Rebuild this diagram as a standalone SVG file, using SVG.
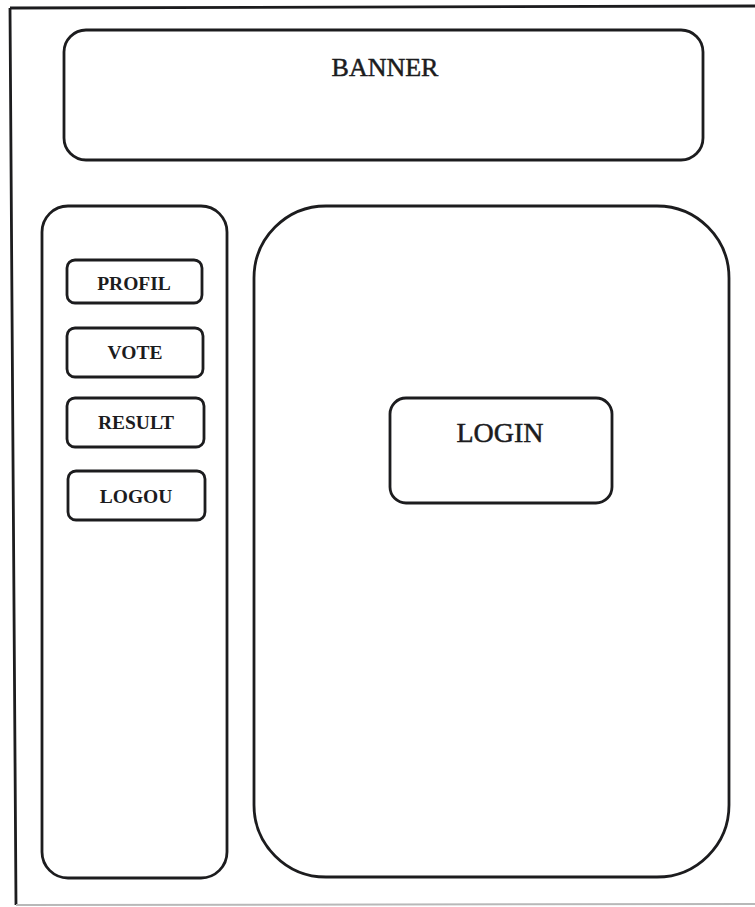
<svg xmlns="http://www.w3.org/2000/svg" width="755" height="907" viewBox="0 0 755 907">
  <style>
    .box { fill: #ffffff; stroke: #1c1c1e; stroke-width: 2.8; }
    .frame { fill: none; stroke: #1c1c1e; stroke-width: 2.8; }
    .title { font-family: "Liberation Serif", "Times New Roman", serif; fill: #1c1c1e; stroke: #1c1c1e; stroke-width: 0.5; text-anchor: middle; }
    .menu { font-family: "Liberation Serif", "Times New Roman", serif; font-weight: bold; font-size: 19.5px; fill: #1c1c1e; text-anchor: middle; }
  </style>
  <rect width="755" height="907" fill="#ffffff"/>

  <!-- page frame -->
  <g id="frame">
    <path class="frame" d="M10,8 L755,6 M10,8 L16,905"/>
    <path d="M16,905 L755,904" fill="none" stroke="#b8b8b8" stroke-width="2"/>
  </g>

  <!-- header -->
  <g id="banner">
    <rect class="box" x="64" y="30" width="639" height="130" rx="22" ry="22"/>
    <text class="title" x="385" y="76" font-size="26">BANNER</text>
  </g>

  <!-- side menu -->
  <g id="sidebar">
    <rect class="box" x="42" y="206" width="185" height="672" rx="26" ry="26"/>
  </g>
  <g id="profil">
    <rect class="box" x="67" y="260" width="135" height="43" rx="8" ry="8"/>
    <text class="menu" x="134" y="290">PROFIL</text>
  </g>
  <g id="vote">
    <rect class="box" x="67" y="328" width="136" height="49" rx="8" ry="8"/>
    <text class="menu" x="135" y="359">VOTE</text>
  </g>
  <g id="result">
    <rect class="box" x="67" y="398" width="137" height="49" rx="8" ry="8"/>
    <text class="menu" x="136" y="429">RESULT</text>
  </g>
  <g id="logou">
    <rect class="box" x="68" y="471" width="137" height="49" rx="8" ry="8"/>
    <text class="menu" x="136" y="503">LOGOU</text>
  </g>

  <!-- content area -->
  <g id="content">
    <rect class="box" x="254" y="206" width="475" height="671" rx="72" ry="72"/>
  </g>
  <g id="login">
    <rect class="box" x="390" y="398" width="222" height="105" rx="16" ry="16"/>
    <text class="title" x="500" y="442" font-size="28">LOGIN</text>
  </g>
</svg>
